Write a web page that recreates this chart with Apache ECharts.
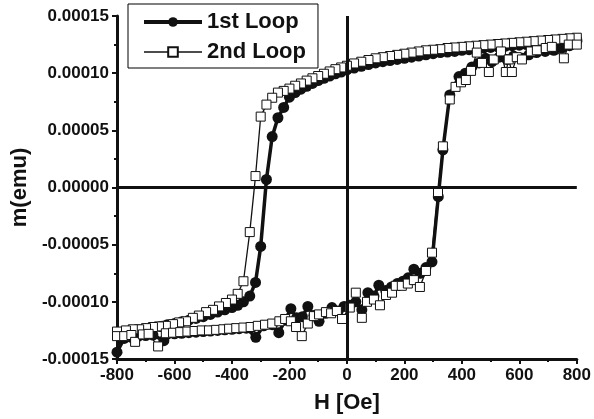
<!DOCTYPE html>
<html>
<head>
<meta charset="utf-8">
<title>m(emu) vs H [Oe]</title>
<script src="https://cdn.jsdelivr.net/npm/echarts@6/dist/echarts.min.js"></script>
<style>
    html, body { margin: 0; padding: 0; background: #fff; }
    #main { width: 594px; height: 419px; }
</style>
</head>
<body>
<div id="main"></div>
<script>
// field H in Oe, moment in units of 1e-4 emu
var loop1DownH = [800,775,750,725,700,675,650,625,600,575,550,525,500,475,450,425,400,375,350,325,300,275,250,225,200,175,150,125,100,75,50,25,0,
    -20,-40,-60,-80,-100,-120,-140,-160,-180,-200,-220,-240,-260,-280,-300,
    -318,-338,-360,-380,-400,
    -425,-450,-475,-500,-525,-550,-575,-600,-625,-650,-675,-700,-725,-750,-775];
var loop1DownM = [1.28,1.28,1.275,1.27,1.265,1.26,1.255,1.25,1.245,1.24,1.235,1.23,1.225,1.22,1.21,1.205,1.20,1.19,1.185,1.18,1.17,1.16,1.15,1.14,1.13,1.12,1.11,1.10,1.09,1.075,1.06,1.045,1.03,
    1.01,0.995,0.975,0.955,0.935,0.91,0.885,0.86,0.83,0.79,0.70,0.61,0.445,0.07,-0.515,
    -0.83,-0.95,-1.00,-1.03,-1.05,
    -1.07,-1.09,-1.11,-1.13,-1.145,-1.16,-1.175,-1.19,-1.20,-1.215,-1.225,-1.235,-1.245,-1.255,-1.265];
var loop1UpH = [-800,-775,-750,-725,-700,-675,-637,-600,-575,-550,-525,-500,-475,-450,-425,-400,-375,-350,-317,-290,
    -260,-237,-215,-195,-175,-155,-136,-115,-97,-75,-52,-30,-10,10,31,52,73,94,111,135,
    155,175,195,213,233,255,275,296,318,334,358,390,412,435,460,483,505,530,557,580,
    610,633,660,690,720,748,775,800];
var loop1UpM = [-1.44,-1.32,-1.31,-1.30,-1.295,-1.29,-1.34,-1.28,-1.275,-1.27,-1.265,-1.26,-1.255,-1.25,-1.245,-1.24,-1.235,-1.23,-1.31,-1.21,
    -1.20,-1.27,-1.16,-1.06,-1.14,-1.13,-1.04,-1.12,-1.17,-1.10,-1.05,-1.08,-1.04,-1.03,-1.00,-1.07,-0.92,-0.95,-0.855,-0.90,
    -0.87,-0.84,-0.82,-0.79,-0.715,-0.75,-0.70,-0.65,-0.08,0.33,0.81,0.97,1.00,1.055,1.09,1.13,1.10,1.14,1.12,1.15,
    1.13,1.16,1.18,1.19,1.20,1.22,1.24,1.29];

var loop2DownH = [800,775,750,725,700,675,650,625,600,575,550,525,500,475,450,425,400,375,350,325,300,275,250,225,200,175,150,125,100,75,50,25,0,
    -20,-40,-60,-80,-100,-120,-140,-160,-180,-200,-220,-240,-260,-280,
    -300,-318,-338,-360,-380,-400,
    -421,-445,-466,-490,-515,-536,-560,-584,-605,-630,-654,-675,-699,-723,-745,-769,-800];
var loop2DownM = [1.31,1.305,1.30,1.295,1.29,1.285,1.28,1.275,1.27,1.265,1.26,1.255,1.25,1.245,1.24,1.235,1.23,1.225,1.22,1.21,1.205,1.20,1.19,1.18,1.17,1.16,1.15,1.14,1.13,1.115,1.10,1.085,1.065,
    1.05,1.035,1.015,0.995,0.975,0.955,0.935,0.91,0.89,0.865,0.845,0.83,0.785,0.725,
    0.62,0.10,-0.39,-0.82,-0.93,-0.98,
    -1.01,-1.04,-1.07,-1.09,-1.12,-1.14,-1.17,-1.18,-1.195,-1.21,-1.215,-1.22,-1.23,-1.24,-1.24,-1.25,-1.26];
var loop2UpH = [-800,-775,-750,-737,-710,-690,-657,-630,-605,-580,-555,-530,-505,-480,-455,-430,-410,-385,-360,-335,
    -310,-285,-260,-235,-215,-195,-177,-157,-136,-115,-97,-73,-55,-35,-17,10,31,52,70,94,
    115,136,157,170,191,212,233,254,275,296,317,334,358,378,397,414,432,452,470,494,
    511,536,553,563,574,591,609,640,661,692,713,755,772,800];
var loop2UpM = [-1.30,-1.30,-1.29,-1.35,-1.285,-1.28,-1.39,-1.275,-1.27,-1.265,-1.26,-1.255,-1.25,-1.25,-1.245,-1.24,-1.235,-1.23,-1.225,-1.22,
    -1.21,-1.20,-1.19,-1.17,-1.15,-1.17,-1.22,-1.30,-1.19,-1.125,-1.11,-1.09,-1.10,-1.08,-1.15,-1.05,-0.92,-1.14,-1.00,-0.98,
    -1.03,-0.94,-0.92,-0.86,-0.86,-0.84,-0.81,-0.87,-0.73,-0.57,-0.04,0.36,0.77,0.88,0.92,0.94,1.02,1.18,1.09,1.01,
    1.12,1.19,1.01,1.12,1.01,1.14,1.12,1.19,1.20,1.22,1.23,1.13,1.25,1.25];

var xTicks = { min: -800, max: 800, step: 200 };
var yTicks = { min: -1.5, max: 1.5, step: 0.5 };

function pairs(hs, ms) {
    var out = [];
    for (var i = 0; i < hs.length; i++) out.push([hs[i], ms[i]]);
    return out;
}
var loop1 = pairs(loop1DownH, loop1DownM).concat(pairs(loop1UpH, loop1UpM));
var loop2 = pairs(loop2DownH, loop2DownM).concat(pairs(loop2UpH, loop2UpM));

var font = 'Liberation Sans, Arial, sans-serif';
var myChart = echarts.init(document.getElementById('main'));
var option = {
    animation: false,
    grid: { left: 117, right: 17, top: 16, bottom: 59 },
    legend: {
        orient: 'vertical',
        left: 128, top: 4,
        padding: [7, 12, 5, 14],
        itemGap: 8,
        itemWidth: 58,
        itemHeight: 12,
        borderColor: '#000',
        borderWidth: 1,
        textStyle: { fontFamily: font, fontWeight: 'bold', fontSize: 22, color: '#111', lineHeight: 22 },
        data: [
            { name: '1st Loop', lineStyle: { width: 4 } },
            { name: '2nd Loop', lineStyle: { width: 1.5 } }
        ]
    },
    xAxis: {
        type: 'value',
        min: xTicks.min, max: xTicks.max, interval: xTicks.step,
        name: 'H [Oe]',
        nameLocation: 'middle',
        nameGap: 33,
        nameTextStyle: { fontFamily: font, fontWeight: 'bold', fontSize: 22, color: '#111' },
        axisLine: { onZero: false, lineStyle: { color: '#111', width: 3 } },
        axisTick: { length: 5, lineStyle: { width: 2, color: '#111' } },
        minorTick: { show: true, splitNumber: 2, length: 3, lineStyle: { width: 2, color: '#111' } },
        axisLabel: { margin: 8, fontFamily: font, fontWeight: 'bold', fontSize: 17, color: '#111' },
        splitLine: { show: false }
    },
    yAxis: {
        type: 'value',
        min: yTicks.min, max: yTicks.max, interval: yTicks.step,
        name: 'm(emu)',
        nameLocation: 'middle',
        nameGap: 79,
        nameTextStyle: { fontFamily: font, fontWeight: 'bold', fontSize: 22, color: '#111' },
        axisLine: { onZero: false, lineStyle: { color: '#111', width: 3 } },
        axisTick: { length: 5, lineStyle: { width: 2, color: '#111' } },
        minorTick: { show: true, splitNumber: 2, length: 3, lineStyle: { width: 2, color: '#111' } },
        axisLabel: {
            margin: 8, fontFamily: font, fontWeight: 'bold', fontSize: 17, color: '#111',
            formatter: function (v) { return (v / 10000).toFixed(5); }
        },
        splitLine: { show: false }
    },
    series: [{
        name: '1st Loop',
        type: 'line',
        data: loop1,
        symbol: 'circle',
        symbolSize: 11,
        itemStyle: { color: '#111' },
        lineStyle: { color: '#111', width: 3.5 },
        emphasis: { disabled: true },
        markLine: {
            silent: true,
            symbol: ['none', 'none'],
            label: { show: false },
            lineStyle: { color: '#111', width: 3, type: 'solid' },
            data: [{ xAxis: 0 }, { yAxis: 0 }]
        }
    }, {
        name: '2nd Loop',
        type: 'line',
        data: loop2,
        symbol: 'rect',
        symbolSize: 9,
        itemStyle: { color: '#fff', borderColor: '#111', borderWidth: 1 },
        lineStyle: { color: '#111', width: 1.3 },
        emphasis: { disabled: true }
    }]
};
myChart.setOption(option);
</script>
</body>
</html>
